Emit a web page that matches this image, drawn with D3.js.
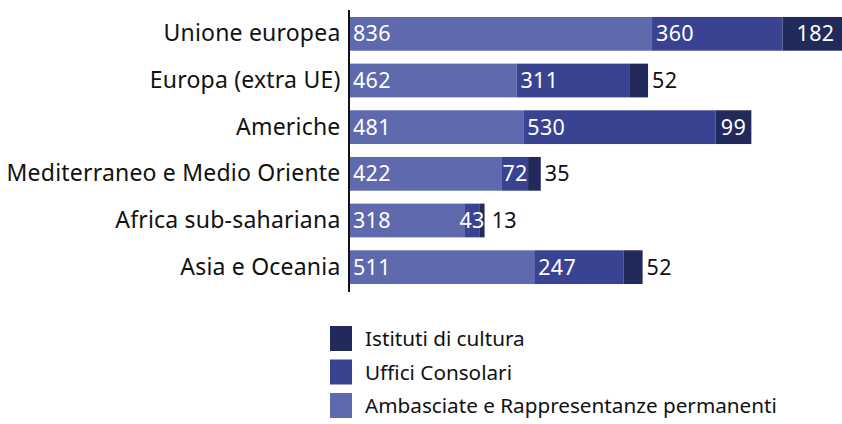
<!DOCTYPE html>
<html>
<head>
<meta charset="utf-8">
<script src="https://cdn.jsdelivr.net/npm/d3@7"></script>
<style>
body{margin:0;background:#fff;}
svg text{font-family:"Noto Sans",sans-serif;}
</style>
</head>
<body>
<svg id="chart" width="842" height="424"></svg>
<script>
// data
var regions = ["Unione europea","Europa (extra UE)","Americhe","Mediterraneo e Medio Oriente","Africa sub-sahariana","Asia e Oceania"];
var ambasciate = [836,462,481,422,318,511];
var consolari = [360,311,530,72,43,247];
var istituti = [182,52,99,35,13,52];
var seriesNames = ["Ambasciate e Rappresentanze permanenti","Uffici Consolari","Istituti di cultura"];
var seriesColors = ["#5f69ad","#3a4292","#222a5b"];

var svg = d3.select("#chart");
var x0 = 349;

var rows = regions.map(function(r,i){
  return {region:r, Amb:ambasciate[i], Cons:consolari[i], Ist:istituti[i]};
});
var keys = ["Amb","Cons","Ist"];
var stack = d3.stack().keys(keys)(rows);

var x = d3.scaleLinear().domain([0,1378]).range([x0,848.5]);
var y = d3.scaleBand().domain(regions).range([9.5,291.5]).paddingInner(0.277).paddingOuter(0.16);

// bars
var layers = svg.append("g").selectAll("g").data(stack).enter().append("g")
  .attr("fill",function(d,i){return seriesColors[i];});
layers.selectAll("rect").data(function(d){return d;}).enter().append("rect")
  .attr("x",function(d){return x(d[0]);})
  .attr("y",function(d){return y(d.data.region);})
  .attr("width",function(d){return x(d[1])-x(d[0]);})
  .attr("height",y.bandwidth());

// value labels
var lastEnd = {};
var labels = svg.append("g");
stack.forEach(function(layer,li){
  labels.selectAll("text.l"+li).data(layer).enter().append("text")
    .attr("class","l"+li)
    .attr("font-size",21.5)
    .attr("letter-spacing",0.3)
    .attr("dy","0.35em")
    .attr("y",function(d){return y(d.data.region)+y.bandwidth()/2;})
    .text(function(d){return d[1]-d[0];})
    .each(function(d){
      var t = d3.select(this);
      var w = this.getComputedTextLength();
      var a = x(d[0]), b = x(d[1]);
      var v = d[1]-d[0];
      var start;
      if(li<2){
        start = (b-a >= w+8) ? a+4 : (a+b)/2-w/2;
        t.attr("fill","#fff");
      } else if(v>=90){
        start = (a+b)/2-w/2;
        t.attr("fill","#fff");
      } else {
        start = Math.max(b+4, (lastEnd[d.data.region]||0)+7);
        t.attr("fill","#111");
      }
      t.attr("x",start);
      lastEnd[d.data.region] = start+w;
    });
});

// axis
var yAxis = d3.axisLeft(y).tickSize(0).tickPadding(8);
var ag = svg.append("g").attr("transform","translate("+(x0-0.5)+",0)").call(yAxis);
ag.select(".domain").attr("stroke","#111").attr("stroke-width",2);
ag.selectAll("text").attr("font-size",23).attr("letter-spacing",0.2).attr("fill","#111").attr("font-family","'Noto Sans',sans-serif");

// legend
var legOrder = [2,1,0];
var leg = svg.append("g").selectAll("g").data(legOrder).enter().append("g")
  .attr("transform",function(d,i){return "translate(330,"+(326+i*33.5)+")";});
leg.append("rect").attr("width",22).attr("height",25).attr("fill",function(d){return seriesColors[d];});
leg.append("text").attr("x",35).attr("y",13).attr("dy","0.35em").attr("font-size",20.7).attr("fill","#111")
  .text(function(d){return seriesNames[d];});
</script>
</body>
</html>
